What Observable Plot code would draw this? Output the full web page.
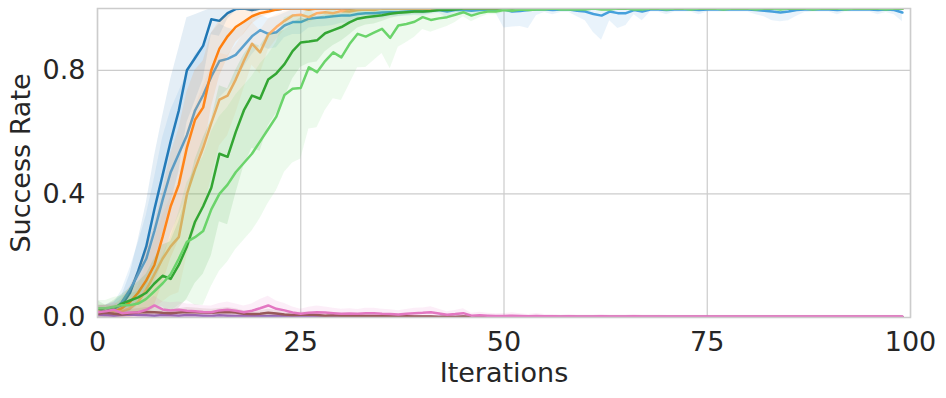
<!DOCTYPE html>
<html><head><meta charset="utf-8">
<script src="https://cdn.jsdelivr.net/npm/d3@7"></script>
<script src="https://cdn.jsdelivr.net/npm/@observablehq/plot@0.6"></script>
<style>body{margin:0;background:#fff;}</style>
</head><body><div id="chart"></div>
<script>
const xTicks = [0, 25, 50, 75, 100];
const yTicks = [0, 0.4, 0.8];
const xLabel = "Iterations";
const yLabel = "Success Rate";

const darkBlue = [0.02,0.02,0.03,0.04,0.08,0.15,0.23,0.35,0.46,0.57,0.67,0.80,0.84,0.88,0.965,0.96,0.985,0.998,1,0.995,
  1,1,0.997,1,1,1,1,1,1,1,1,1,1,1,1,1,1,1,1,1,
  1,1,1,1,1,1,1,1,1,1,1,1,1,1,1,1,1,1,1,1,
  1,1,1,1,1,1,1,1,1,1,1,1,1,1,1,1,1,1,1,1,
  1,1,1,1,1,1,1,1,1,1,1,1,1,1,1,1,1,1,1,1];
const darkBlueSpread = [0.02,0.02,0.02,0.03,0.06,0.1,0.14,0.17,0.19,0.2,0.2,0.17,0.14,0.11,0.05,0.05,0.02,0.005,0,0.01,
  0.005,0.005,0.008,0.005,0.005,0.005,0.005,0.005,0.005,0.005,0.005,0.005,0.005,0.005,0.005,0.005,0.005,0.005,0.005,0.005,
  0.005,0.005,0.005,0.005,0.005,0.005,0.005,0.005,0.005,0.005,0.005,0.005,0.005,0.005,0.005,0.005,0.005,0.005,0.005,0.005,
  0.005,0.005,0.005,0.005,0.005,0.005,0.005,0.005,0.005,0.005,0.005,0.005,0.005,0.005,0.005,0.005,0.005,0.005,0.005,0.005,
  0.005,0.005,0.005,0.005,0.005,0.005,0.005,0.005,0.005,0.005,0.005,0.005,0.005,0.005,0.005,0.005,0.005,0.005,0.005,0.005];

const lightBlue = [0.02,0.02,0.025,0.05,0.09,0.14,0.19,0.28,0.38,0.47,0.53,0.59,0.67,0.72,0.78,0.83,0.837,0.85,0.88,0.91,
  0.93,0.918,0.923,0.945,0.956,0.956,0.967,0.97,0.972,0.975,0.977,0.977,0.982,0.985,0.985,0.987,0.988,0.988,0.99,0.992,
  0.99,0.993,0.995,0.99,0.995,0.995,0.993,0.995,0.997,0.995,0.997,0.99,0.992,0.995,0.997,0.997,0.995,0.997,0.997,0.993,
  0.99,0.982,0.977,0.99,0.985,0.985,0.995,0.99,0.997,0.997,0.995,0.997,0.997,0.997,0.995,0.997,0.997,0.997,0.997,0.997,
  0.997,0.995,0.993,0.99,0.987,0.99,0.995,0.997,0.997,0.997,0.997,0.995,0.997,0.997,0.997,0.997,0.995,0.997,0.995,0.987];
const lightBlueSpread = [0.02,0.02,0.02,0.04,0.07,0.1,0.14,0.17,0.2,0.2,0.2,0.2,0.18,0.16,0.14,0.12,0.1,0.08,0.07,0.06,
  0.05,0.05,0.05,0.04,0.04,0.04,0.03,0.03,0.03,0.03,0.025,0.025,0.02,0.02,0.02,0.02,0.015,0.015,0.015,0.015,
  0.015,0.012,0.01,0.02,0.01,0.01,0.015,0.01,0.008,0.01,0.06,0.05,0.05,0.06,0.02,0.01,0.015,0.01,0.01,0.02,
  0.03,0.06,0.08,0.03,0.05,0.04,0.015,0.03,0.008,0.008,0.015,0.008,0.008,0.008,0.015,0.008,0.008,0.008,0.008,0.008,
  0.008,0.015,0.02,0.03,0.03,0.03,0.02,0.01,0.008,0.008,0.008,0.015,0.008,0.008,0.008,0.008,0.015,0.01,0.015,0.03];

const orange = [0.02,0.02,0.02,0.03,0.05,0.08,0.12,0.17,0.26,0.36,0.43,0.55,0.64,0.68,0.80,0.87,0.91,0.94,0.957,0.975,
  0.985,0.99,0.997,1,1,1,0.997,1,1,1,1,1,1,1,1,1,1,1,1,1,
  1,1,1,1,1,1,1,1,1,1,1,1,1,1,1,1,1,1,1,1,
  1,1,1,1,1,1,1,1,1,1,1,1,1,1,1,1,1,1,1,1,
  1,1,1,1,1,1,1,1,1,1,1,1,1,1,1,1,1,1,1,1];
const orangeSpread = [0.02,0.02,0.02,0.03,0.05,0.07,0.1,0.13,0.15,0.17,0.18,0.18,0.16,0.15,0.12,0.09,0.07,0.05,0.04,0.025,
  0.015,0.01,0.005,0.005,0.005,0.005,0.005,0.005,0.005,0.005,0.005,0.005,0.005,0.005,0.005,0.005,0.005,0.005,0.005,0.005,
  0.005,0.005,0.005,0.005,0.005,0.005,0.005,0.005,0.005,0.005,0.005,0.005,0.005,0.005,0.005,0.005,0.005,0.005,0.005,0.005,
  0.005,0.005,0.005,0.005,0.005,0.005,0.005,0.005,0.005,0.005,0.005,0.005,0.005,0.005,0.005,0.005,0.005,0.005,0.005,0.005,
  0.005,0.005,0.005,0.005,0.005,0.005,0.005,0.005,0.005,0.005,0.005,0.005,0.005,0.005,0.005,0.005,0.005,0.005,0.005,0.005];

const lightOrange = [0.02,0.02,0.02,0.02,0.03,0.05,0.09,0.14,0.19,0.23,0.26,0.40,0.48,0.55,0.63,0.705,0.718,0.77,0.83,0.886,
  0.858,0.915,0.94,0.96,0.977,0.98,0.972,0.985,0.988,0.985,0.992,0.99,0.995,0.997,0.995,1,1,1,1,1,
  1,1,1,1,1,1,1,1,1,1,1,1,1,1,1,1,1,1,1,1,
  1,1,1,1,1,1,1,1,1,1,1,1,1,1,1,1,1,1,1,1,
  1,1,1,1,1,1,1,1,1,1,1,1,1,1,1,1,1,1,1,1];
const lightOrangeSpread = [0.02,0.02,0.02,0.02,0.03,0.05,0.08,0.11,0.14,0.16,0.18,0.2,0.2,0.2,0.18,0.15,0.13,0.11,0.09,0.07,
  0.07,0.05,0.04,0.03,0.02,0.02,0.02,0.015,0.012,0.012,0.01,0.01,0.008,0.005,0.005,0.003,0.003,0.003,0.003,0.003,
  0.003,0.003,0.003,0.003,0.003,0.003,0.003,0.003,0.003,0.003,0.003,0.003,0.003,0.003,0.003,0.003,0.003,0.003,0.003,0.003,
  0.003,0.003,0.003,0.003,0.003,0.003,0.003,0.003,0.003,0.003,0.003,0.003,0.003,0.003,0.003,0.003,0.003,0.003,0.003,0.003,
  0.003,0.003,0.003,0.003,0.003,0.003,0.003,0.003,0.003,0.003,0.003,0.003,0.003,0.003,0.003,0.003,0.003,0.003,0.003,0.003];

const darkGreen = [0.03,0.02,0.03,0.045,0.055,0.065,0.08,0.11,0.135,0.125,0.17,0.23,0.31,0.36,0.42,0.53,0.52,0.60,0.67,0.718,
  0.708,0.77,0.79,0.82,0.862,0.89,0.893,0.897,0.92,0.93,0.94,0.955,0.967,0.972,0.975,0.978,0.983,0.986,0.988,0.99,
  0.99,0.992,0.995,0.995,0.997,1,1,1,1,1,1,1,1,1,1,1,1,1,1,1,
  1,1,1,1,1,1,1,1,1,1,1,1,1,1,1,1,1,1,1,1,
  1,1,1,1,1,1,1,1,1,1,1,1,1,1,1,1,1,1,1,1];
const darkGreenSpread = [0.025,0.02,0.025,0.03,0.04,0.05,0.06,0.08,0.1,0.12,0.14,0.17,0.2,0.22,0.22,0.22,0.22,0.2,0.18,0.17,
  0.17,0.15,0.13,0.11,0.09,0.08,0.07,0.07,0.06,0.05,0.045,0.04,0.03,0.025,0.025,0.02,0.015,0.012,0.01,0.01,
  0.01,0.008,0.005,0.005,0.003,0.003,0.003,0.003,0.003,0.003,0.003,0.003,0.003,0.003,0.003,0.003,0.003,0.003,0.003,0.003,
  0.003,0.003,0.003,0.003,0.003,0.003,0.003,0.003,0.003,0.003,0.003,0.003,0.003,0.003,0.003,0.003,0.003,0.003,0.003,0.003,
  0.003,0.003,0.003,0.003,0.003,0.003,0.003,0.003,0.003,0.003,0.003,0.003,0.003,0.003,0.003,0.003,0.003,0.003,0.003,0.003];

const lightGreen = [0.03,0.03,0.035,0.04,0.04,0.045,0.06,0.085,0.11,0.14,0.19,0.245,0.26,0.28,0.35,0.40,0.43,0.47,0.50,0.53,
  0.57,0.61,0.65,0.72,0.74,0.743,0.81,0.794,0.83,0.858,0.842,0.885,0.918,0.909,0.922,0.934,0.905,0.945,0.95,0.957,
  0.972,0.963,0.968,0.972,0.98,0.988,0.977,0.985,0.99,0.99,0.995,0.993,0.997,0.995,0.997,0.997,1,0.997,0.997,0.997,
  0.997,1,0.997,0.997,1,1,0.997,0.997,1,1,0.997,1,1,0.997,1,1,1,0.997,1,1,
  1,0.997,1,1,0.997,1,1,1,0.997,1,1,1,0.997,1,1,1,1,0.997,1,1];
const lightGreenSpread = [0.025,0.025,0.03,0.03,0.035,0.04,0.05,0.07,0.09,0.12,0.15,0.19,0.22,0.24,0.25,0.25,0.25,0.25,0.25,0.25,
  0.25,0.24,0.24,0.25,0.24,0.23,0.2,0.18,0.16,0.15,0.14,0.13,0.11,0.1,0.09,0.08,0.1,0.07,0.06,0.05,
  0.04,0.04,0.035,0.03,0.025,0.015,0.02,0.015,0.01,0.01,0.008,0.008,0.005,0.006,0.005,0.005,0.003,0.005,0.005,0.005,
  0.004,0.004,0.004,0.004,0.004,0.004,0.004,0.004,0.004,0.004,0.004,0.004,0.004,0.004,0.004,0.004,0.004,0.004,0.004,0.004,
  0.004,0.004,0.004,0.004,0.004,0.004,0.004,0.004,0.004,0.004,0.004,0.004,0.004,0.004,0.004,0.004,0.004,0.004,0.004,0.004];

const purple = [0.01,0.008,0.006,0.008,0.01,0.008,0.007,0.006,0.008,0.007,0.006,0.008,0.007,0.006,0.005,0.007,0.006,0.005,0.006,0.005,
  0.005,0.004,0.006,0.005,0.004,0.004,0.005,0.004,0.003,0.004,0.003,0.003,0.004,0.003,0.003,0.002,0.003,0.002,0.002,0.002,
  0.002,0.002,0.002,0.002,0.002,0.002,0.002,0.002,0.002,0.002,0.002,0.002,0.002,0.002,0.002,0.002,0.002,0.002,0.002,0.002,
  0.002,0.002,0.002,0.002,0.002,0.002,0.002,0.002,0.002,0.002,0.002,0.002,0.002,0.002,0.002,0.002,0.002,0.002,0.002,0.002,
  0.002,0.002,0.002,0.002,0.002,0.002,0.002,0.002,0.002,0.002,0.002,0.002,0.002,0.002,0.002,0.002,0.002,0.002,0.002,0.002];
const purpleSpread = [0.01,0.01,0.008,0.008,0.008,0.008,0.008,0.008,0.008,0.008,0.008,0.008,0.008,0.008,0.006,0.006,0.006,0.006,0.006,0.006,
  0.006,0.006,0.006,0.006,0.005,0.005,0.005,0.005,0.004,0.004,0.004,0.004,0.004,0.004,0.004,0.003,0.003,0.003,0.003,0.003,
  0.003,0.003,0.003,0.003,0.003,0.003,0.003,0.003,0.003,0.003,0.003,0.003,0.003,0.003,0.003,0.003,0.003,0.003,0.003,0.003,
  0.003,0.003,0.003,0.003,0.003,0.003,0.003,0.003,0.003,0.003,0.003,0.003,0.003,0.003,0.003,0.003,0.003,0.003,0.003,0.003,
  0.003,0.003,0.003,0.003,0.003,0.003,0.003,0.003,0.003,0.003,0.003,0.003,0.003,0.003,0.003,0.003,0.003,0.003,0.003,0.003];

const brown = [0.012,0.015,0.012,0.01,0.014,0.016,0.018,0.017,0.015,0.014,0.016,0.018,0.017,0.016,0.015,0.017,0.018,0.016,0.012,0.011,
  0.012,0.015,0.013,0.01,0.008,0.009,0.01,0.008,0.006,0.007,0.006,0.005,0.006,0.005,0.005,0.004,0.004,0.003,0.004,0.003,
  0.003,0.003,0.002,0.003,0.002,0.003,0.002,0.002,0.003,0.002,0.002,0.002,0.002,0.002,0.002,0.002,0.002,0.002,0.002,0.002,
  0.002,0.002,0.002,0.002,0.002,0.002,0.002,0.002,0.002,0.002,0.002,0.002,0.002,0.002,0.002,0.002,0.002,0.002,0.002,0.002,
  0.002,0.002,0.002,0.002,0.002,0.002,0.002,0.002,0.002,0.002,0.002,0.002,0.002,0.002,0.002,0.002,0.002,0.002,0.002,0.002];
const brownSpread = [0.012,0.012,0.012,0.01,0.012,0.012,0.014,0.014,0.012,0.012,0.012,0.014,0.014,0.012,0.012,0.012,0.014,0.012,0.01,0.01,
  0.01,0.012,0.01,0.008,0.008,0.008,0.008,0.006,0.006,0.006,0.005,0.005,0.005,0.005,0.004,0.004,0.004,0.003,0.003,0.003,
  0.003,0.003,0.003,0.003,0.003,0.003,0.003,0.003,0.003,0.003,0.003,0.003,0.003,0.003,0.003,0.003,0.003,0.003,0.003,0.003,
  0.003,0.003,0.003,0.003,0.003,0.003,0.003,0.003,0.003,0.003,0.003,0.003,0.003,0.003,0.003,0.003,0.003,0.003,0.003,0.003,
  0.003,0.003,0.003,0.003,0.003,0.003,0.003,0.003,0.003,0.003,0.003,0.003,0.003,0.003,0.003,0.003,0.003,0.003,0.003,0.003];

const pink = [0.017,0.02,0.025,0.014,0.016,0.017,0.025,0.039,0.026,0.023,0.025,0.022,0.02,0.018,0.017,0.023,0.025,0.022,0.017,0.022,
  0.03,0.039,0.028,0.023,0.016,0.012,0.015,0.017,0.016,0.014,0.012,0.013,0.012,0.014,0.014,0.012,0.011,0.01,0.012,0.014,
  0.015,0.017,0.013,0.009,0.011,0.014,0.006,0.007,0.006,0.005,0.005,0.006,0.005,0.004,0.005,0.004,0.004,0.003,0.004,0.003,
  0.003,0.003,0.004,0.003,0.003,0.003,0.004,0.003,0.003,0.003,0.003,0.003,0.003,0.003,0.003,0.003,0.003,0.003,0.003,0.003,
  0.003,0.003,0.003,0.003,0.003,0.003,0.003,0.003,0.003,0.003,0.003,0.003,0.003,0.003,0.003,0.003,0.003,0.003,0.003,0.003];
const pinkSpread = [0.02,0.02,0.025,0.02,0.02,0.02,0.025,0.03,0.025,0.025,0.025,0.022,0.022,0.02,0.02,0.022,0.025,0.022,0.02,0.022,
  0.028,0.03,0.025,0.022,0.018,0.015,0.018,0.02,0.018,0.016,0.015,0.015,0.014,0.016,0.016,0.015,0.014,0.012,0.014,0.016,
  0.016,0.018,0.014,0.01,0.012,0.014,0.008,0.01,0.008,0.007,0.008,0.009,0.007,0.006,0.008,0.006,0.006,0.005,0.006,0.005,
  0.005,0.005,0.006,0.005,0.005,0.005,0.006,0.005,0.005,0.005,0.004,0.004,0.004,0.004,0.004,0.004,0.004,0.004,0.004,0.004,
  0.004,0.004,0.004,0.004,0.004,0.004,0.004,0.004,0.004,0.004,0.004,0.004,0.004,0.004,0.004,0.004,0.004,0.004,0.004,0.004];

const seriesNames = ["darkBlue","lightBlue","orange","lightOrange","darkGreen","lightGreen","purple","brown","pink"];
const seriesColors = ["#1f77b4","#46a0dc","#ff7f0e","#ffb06a","#2ca02c","#6bd46b","#9467bd","#8c564b","#e377c2"];
const seriesMeans = [darkBlue,lightBlue,orange,lightOrange,darkGreen,lightGreen,purple,brown,pink];
const seriesSpreads = [darkBlueSpread,lightBlueSpread,orangeSpread,lightOrangeSpread,darkGreenSpread,lightGreenSpread,purpleSpread,brownSpread,pinkSpread];

const marks = [
  Plot.gridX(xTicks, {stroke: "#cccccc", strokeOpacity: 1, strokeWidth: 1.2}),
  Plot.gridY(yTicks, {stroke: "#cccccc", strokeOpacity: 1, strokeWidth: 1.2})
];
seriesNames.forEach((name, k) => {
  const rows = seriesMeans[k].map((v, i) => ({
    i, v,
    lo: Math.max(0, v - seriesSpreads[k][i]),
    hi: Math.min(1, v + seriesSpreads[k][i])
  }));
  marks.push(Plot.areaY(rows, {x: "i", y1: "lo", y2: "hi", fill: seriesColors[k], fillOpacity: 0.12, clip: true}));
  marks.push(Plot.lineY(rows, {x: "i", y: "v", stroke: seriesColors[k], strokeWidth: 2.5, clip: true}));
});
marks.push(
  Plot.axisX(xTicks, {tickSize: 0, tickPadding: 14, label: null, tickFormat: d => String(d)}),
  Plot.axisY(yTicks, {tickSize: 0, tickPadding: 12, label: null, tickFormat: d => d.toFixed(1)}),
  Plot.frame({stroke: "#cccccc", strokeWidth: 1.5}),
  Plot.text([xLabel], {frameAnchor: "bottom", dy: 56, lineAnchor: "middle", textAnchor: "middle", fontSize: 27, fill: "#262626"}),
  Plot.text([yLabel], {frameAnchor: "left", dx: -76, rotate: -90, lineAnchor: "middle", textAnchor: "middle", fontSize: 27, fill: "#262626"})
);

const chart = Plot.plot({
  width: 946,
  height: 398,
  marginLeft: 97,
  marginRight: 36,
  marginTop: 8,
  marginBottom: 81,
  x: {domain: [0, 100]},
  y: {domain: [0, 1]},
  style: {fontFamily: "DejaVu Sans", fontSize: "27px", color: "#262626", background: "#fff"},
  marks
});
document.getElementById("chart").appendChild(chart);
</script>
</body></html>
